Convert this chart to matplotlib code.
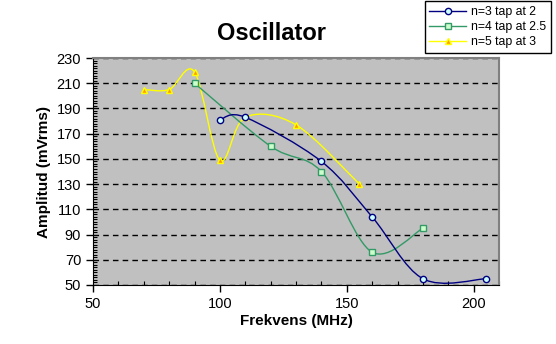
import matplotlib
matplotlib.use('Agg')
import matplotlib.pyplot as plt
from matplotlib.path import Path
from matplotlib.patches import PathPatch
from matplotlib.lines import Line2D
from matplotlib.ticker import MultipleLocator

plt.rcParams['font.family'] = ['Liberation Sans', 'DejaVu Sans']

# Data

freq_n3 = [100, 110, 140, 160, 180, 205]
amp_n3 = [181, 183, 148, 104, 55, 55]

freq_n4 = [90, 120, 140, 160, 180]
amp_n4 = [210, 160, 140, 76, 95]

freq_n5 = [70, 80, 90, 100, 110, 130, 155]
amp_n5 = [205, 205, 219, 149, 183, 177, 130]

labels = ['n=3 tap at 2', 'n=4 tap at 2.5', 'n=5 tap at 3']


# Excel style smoothed line (Catmull-Rom through the points)
def smooth_path(xs, ys):
    pts = list(zip(xs, ys))
    verts = [pts[0]]
    codes = [Path.MOVETO]
    n = len(pts)
    for i in range(n - 1):
        p0 = pts[i - 1] if i > 0 else pts[i]
        p1 = pts[i]
        p2 = pts[i + 1]
        p3 = pts[i + 2] if i + 2 < n else pts[i + 1]
        c1 = (p1[0] + (p2[0] - p0[0]) / 6, p1[1] + (p2[1] - p0[1]) / 6)
        c2 = (p2[0] - (p3[0] - p1[0]) / 6, p2[1] - (p3[1] - p1[1]) / 6)
        verts += [c1, c2, p2]
        codes += [Path.CURVE4] * 3
    return Path(verts, codes)


fig = plt.figure(figsize=(5.56, 3.44), dpi=100)
ax = fig.add_axes([93 / 556, 59 / 344, 406 / 556, 227 / 344])
ax.set_facecolor('#c0c0c0')

series = [
    (freq_n5, amp_n5, '#ffff00', '^', '#ff9900', '#ffff00'),
    (freq_n4, amp_n4, '#339966', 's', '#ccffcc', '#339966'),
    (freq_n3, amp_n3, '#000080', 'o', '#ccffff', '#000080'),
]
for xs, ys, col, mk, mfc, mec in series:
    ax.add_patch(PathPatch(smooth_path(xs, ys), facecolor='none',
                           edgecolor=col, lw=1.0, zorder=3))
    ax.plot(xs, ys, ls='none', marker=mk, ms=4.5, mfc=mfc, mec=mec,
            mew=1.0, zorder=4)

ax.set_xlim(50, 210)
ax.set_ylim(50, 230)
ax.xaxis.set_major_locator(MultipleLocator(50))
ax.xaxis.set_minor_locator(MultipleLocator(10))
ax.yaxis.set_major_locator(MultipleLocator(20))
ax.yaxis.set_minor_locator(MultipleLocator(2))
ax.set_yticks(range(50, 231, 20))

ax.tick_params(which='major', direction='out', length=5, width=1,
               labelsize=10.5, colors='black')
ax.tick_params(which='minor', direction='in', length=3, width=0.8)
ax.yaxis.grid(True, which='major', color='black', linestyle=(0, (4, 3)),
              linewidth=1)
ax.set_axisbelow(True)

for side in ['top', 'right']:
    ax.spines[side].set_color('#808080')
    ax.spines[side].set_linewidth(1.5)
for side in ['left', 'bottom']:
    ax.spines[side].set_color('black')

ax.set_xlabel('Frekvens (MHz)', fontsize=11, fontweight='bold', labelpad=2)
ax.set_ylabel('Amplitud (mVrms)', fontsize=11, fontweight='bold', labelpad=4)
fig.text(272 / 556, 1 - 33 / 344, 'Oscillator', fontsize=17,
         fontweight='bold', ha='center', va='center')

handles = [
    Line2D([], [], color='#000080', marker='o', ms=4.5, mfc='#ccffff',
           mec='#000080', lw=1),
    Line2D([], [], color='#339966', marker='s', ms=4.5, mfc='#ccffcc',
           mec='#339966', lw=1),
    Line2D([], [], color='#ffff00', marker='^', ms=4.5, mfc='#ff9900',
           mec='#ffff00', lw=1),
]
leg = fig.legend(handles, labels, loc='upper right',
                 bbox_to_anchor=(551 / 556, 1 - 1 / 344),
                 bbox_transform=fig.transFigure, fontsize=8.8,
                 frameon=True, fancybox=False, framealpha=1,
                 edgecolor='black', borderaxespad=0, handlelength=3.0,
                 handletextpad=0.4, labelspacing=0.25, borderpad=0.4)
leg.get_frame().set_linewidth(1)

fig.savefig('out.png', dpi=100)
